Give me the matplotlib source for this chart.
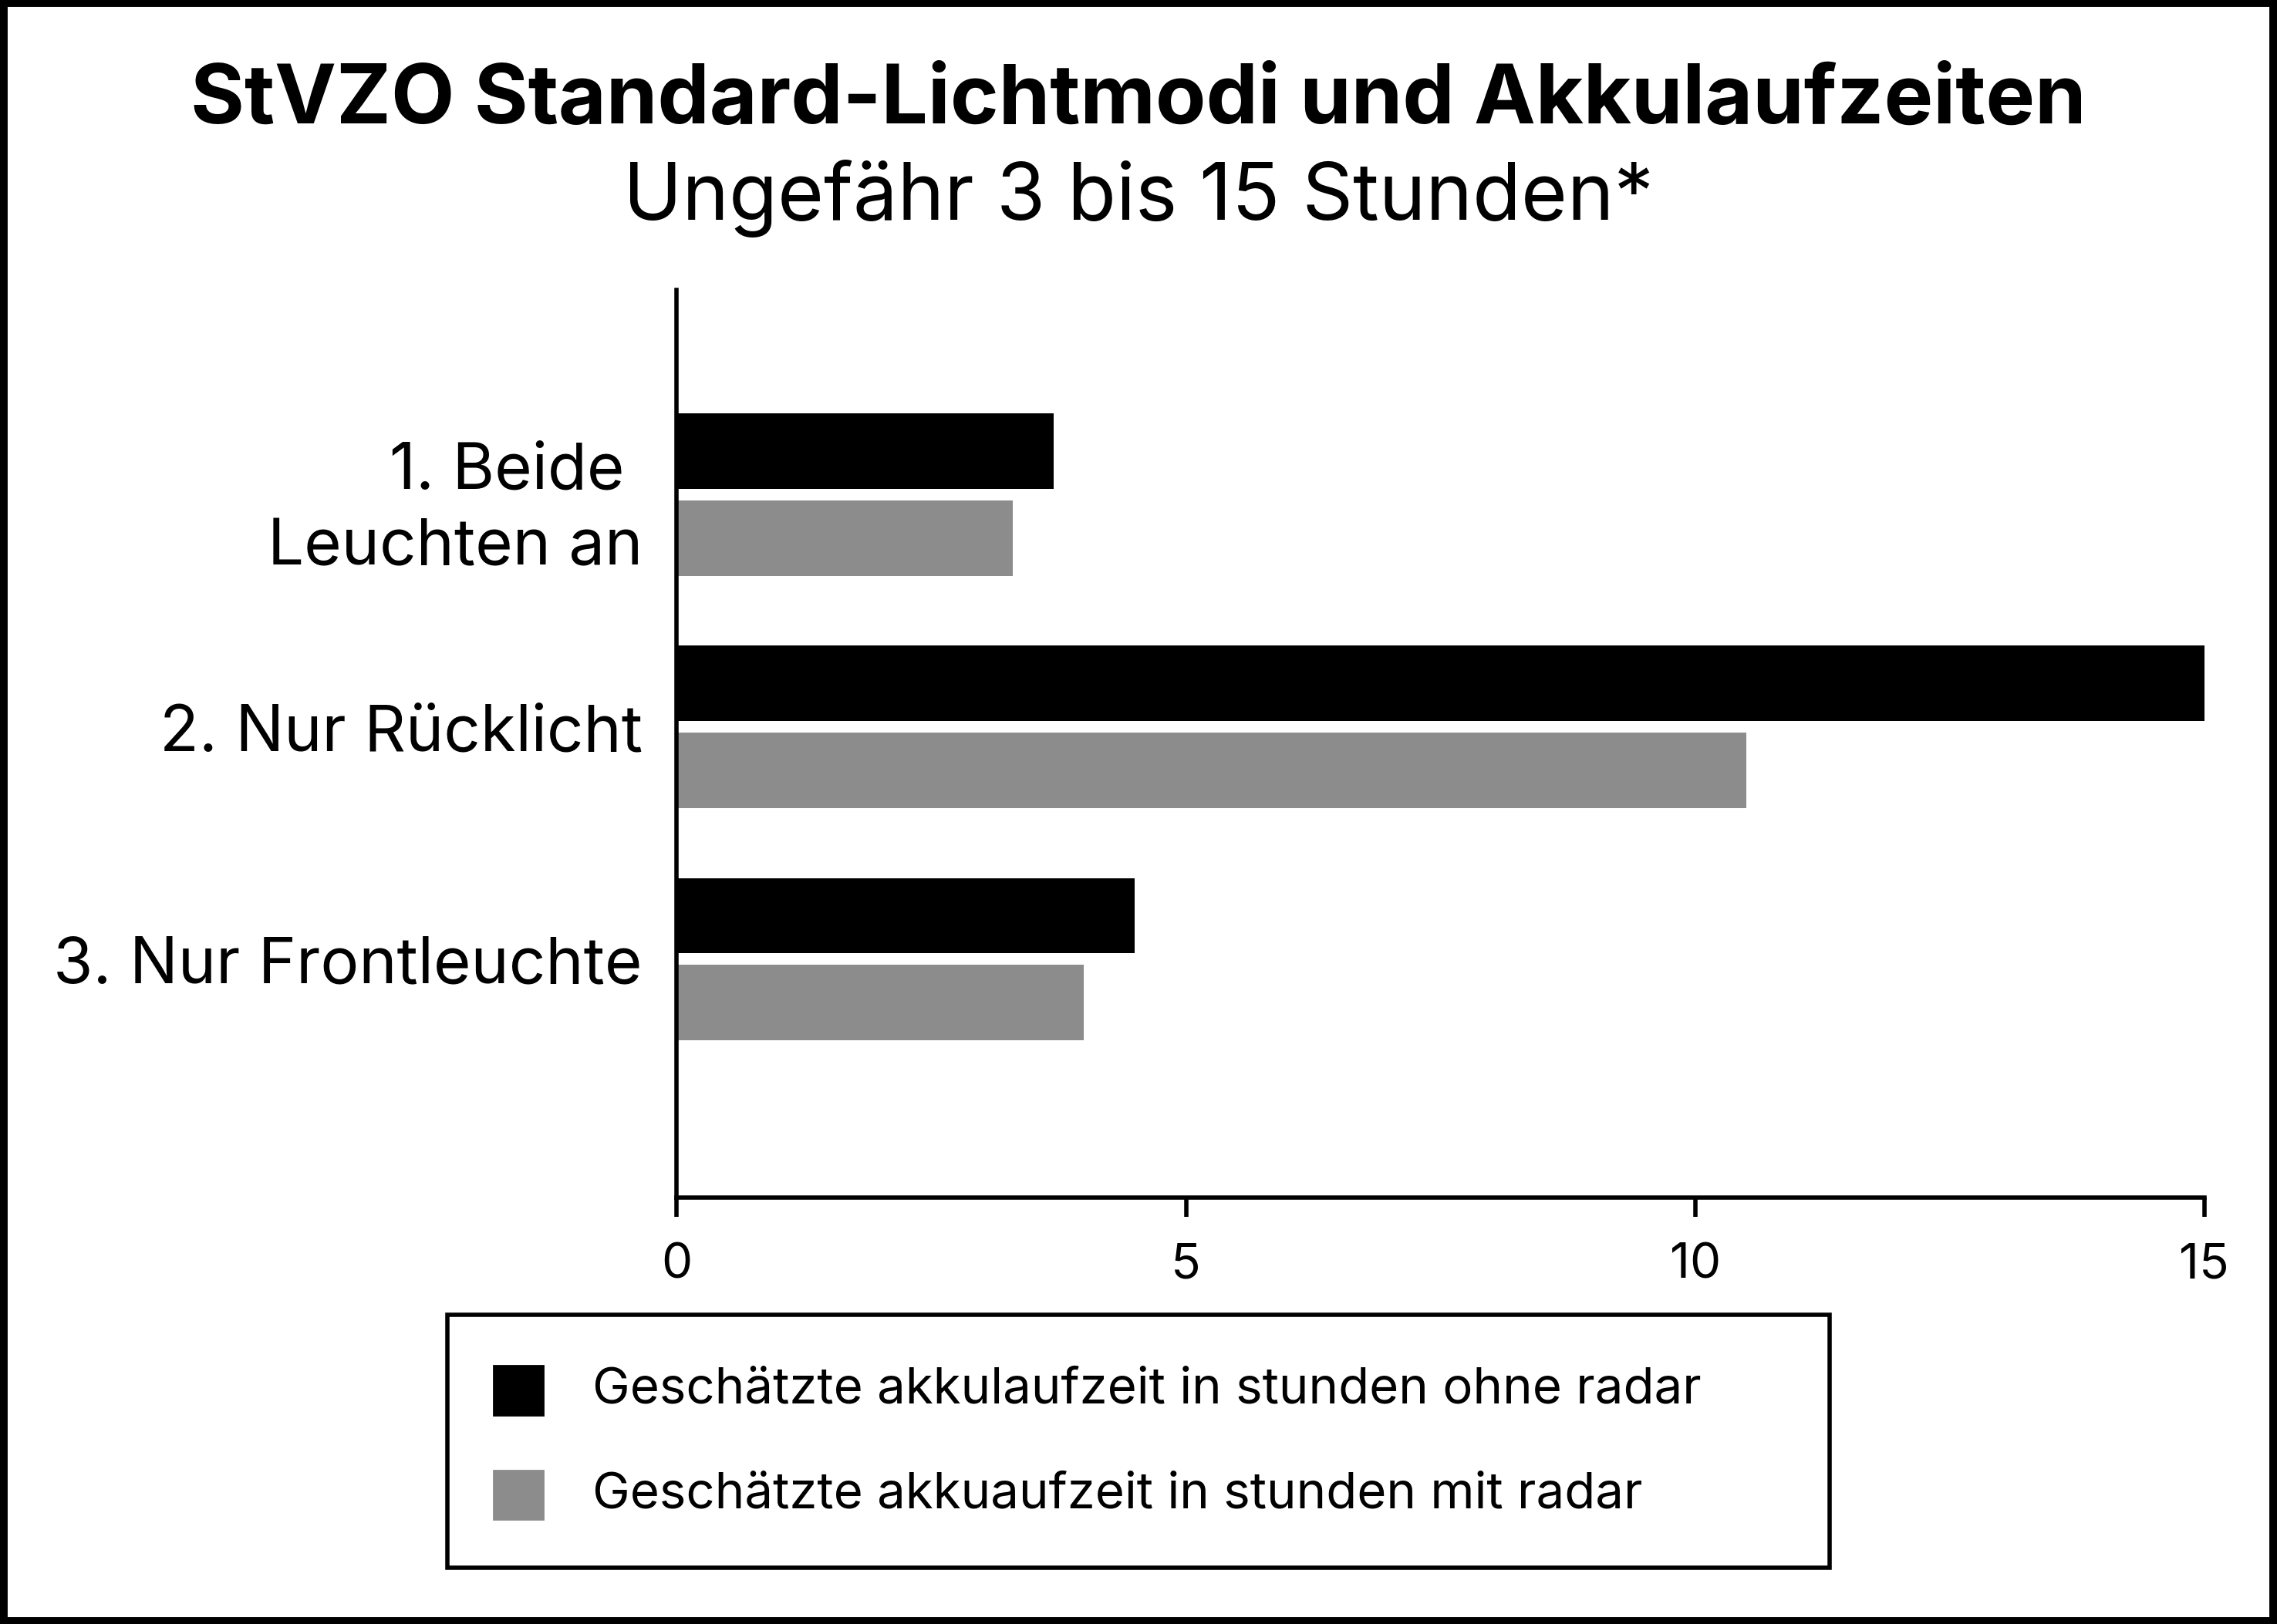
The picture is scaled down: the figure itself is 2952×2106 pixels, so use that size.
import matplotlib.pyplot as plt
from matplotlib.patches import Rectangle
import numpy as np

plt.rcParams['font.family'] = ['Inter', 'DejaVu Sans']

categories = ['1. Beide \nLeuchten an', '2. Nur Rücklicht', '3. Nur Frontleuchte']
ohne_radar = [3.7, 15.0, 4.5]
mit_radar = [3.3, 10.5, 4.0]
series_names = ['Geschätzte akkulaufzeit in stunden ohne radar',
                'Geschätzte akkuaufzeit in stunden mit radar']
x_ticks = [0, 5, 10, 15]

W, H = 1568, 1119  # layout reference grid
fig = plt.figure(figsize=(14.76, 10.53), dpi=200)
ax = fig.add_axes([466 / W, 1 - 825 / H, (1518 - 466) / W, (825 - 200) / H])

y = np.arange(len(categories))
h = 0.325
ax.barh(y - 0.1875, ohne_radar, height=h, color='#000000')
ax.barh(y + 0.1875, mit_radar, height=h, color='#8c8c8c')
ax.set_xlim(0, 15)
ax.set_ylim(3.025, -0.88)
ax.set_yticks(y)
ax.set_yticklabels(categories, fontsize=30, ha='right', linespacing=1.35)
for lbl in ax.get_yticklabels()[:1]:
    lbl.set_y(-0.15)
ax.tick_params(axis='y', length=0, pad=16)
ax.set_xticks(x_ticks)
ax.set_xticklabels([str(t) for t in x_ticks], fontsize=23)
ax.tick_params(axis='x', length=9, width=2, pad=12)
for s in ['top', 'right']:
    ax.spines[s].set_visible(False)
for s in ['left', 'bottom']:
    ax.spines[s].set_linewidth(2)

fig.text(0.5, 1 - 70 / H, 'StVZO Standard-Lichtmodi und Akkulaufzeiten',
         ha='center', va='center', fontsize=38.5, fontweight='bold')
fig.text(0.5, 1 - 137 / H, 'Ungefähr 3 bis 15 Stunden*',
         ha='center', va='center', fontsize=37)

# legend box
fig.patches.append(Rectangle((308 / W, 1 - 1080 / H), (1260 - 308) / W, (1080 - 906) / H,
                             transform=fig.transFigure, fill=False, edgecolor='black', lw=2))
for i, (name, col) in enumerate(zip(series_names, ['#000000', '#8c8c8c'])):
    yc = 958 + i * 72
    fig.patches.append(Rectangle((340 / W, 1 - (yc + 17) / H), 34 / W, 34 / H,
                                 transform=fig.transFigure, color=col))
    fig.text(408 / W, 1 - yc / H, name, ha='left', va='center', fontsize=23.5)

# outer frame
fig.patches.append(Rectangle((0.001, 0.001), 0.998, 0.998, transform=fig.transFigure,
                             fill=False, edgecolor='black', lw=5))

fig.savefig('out.png', dpi=200)
